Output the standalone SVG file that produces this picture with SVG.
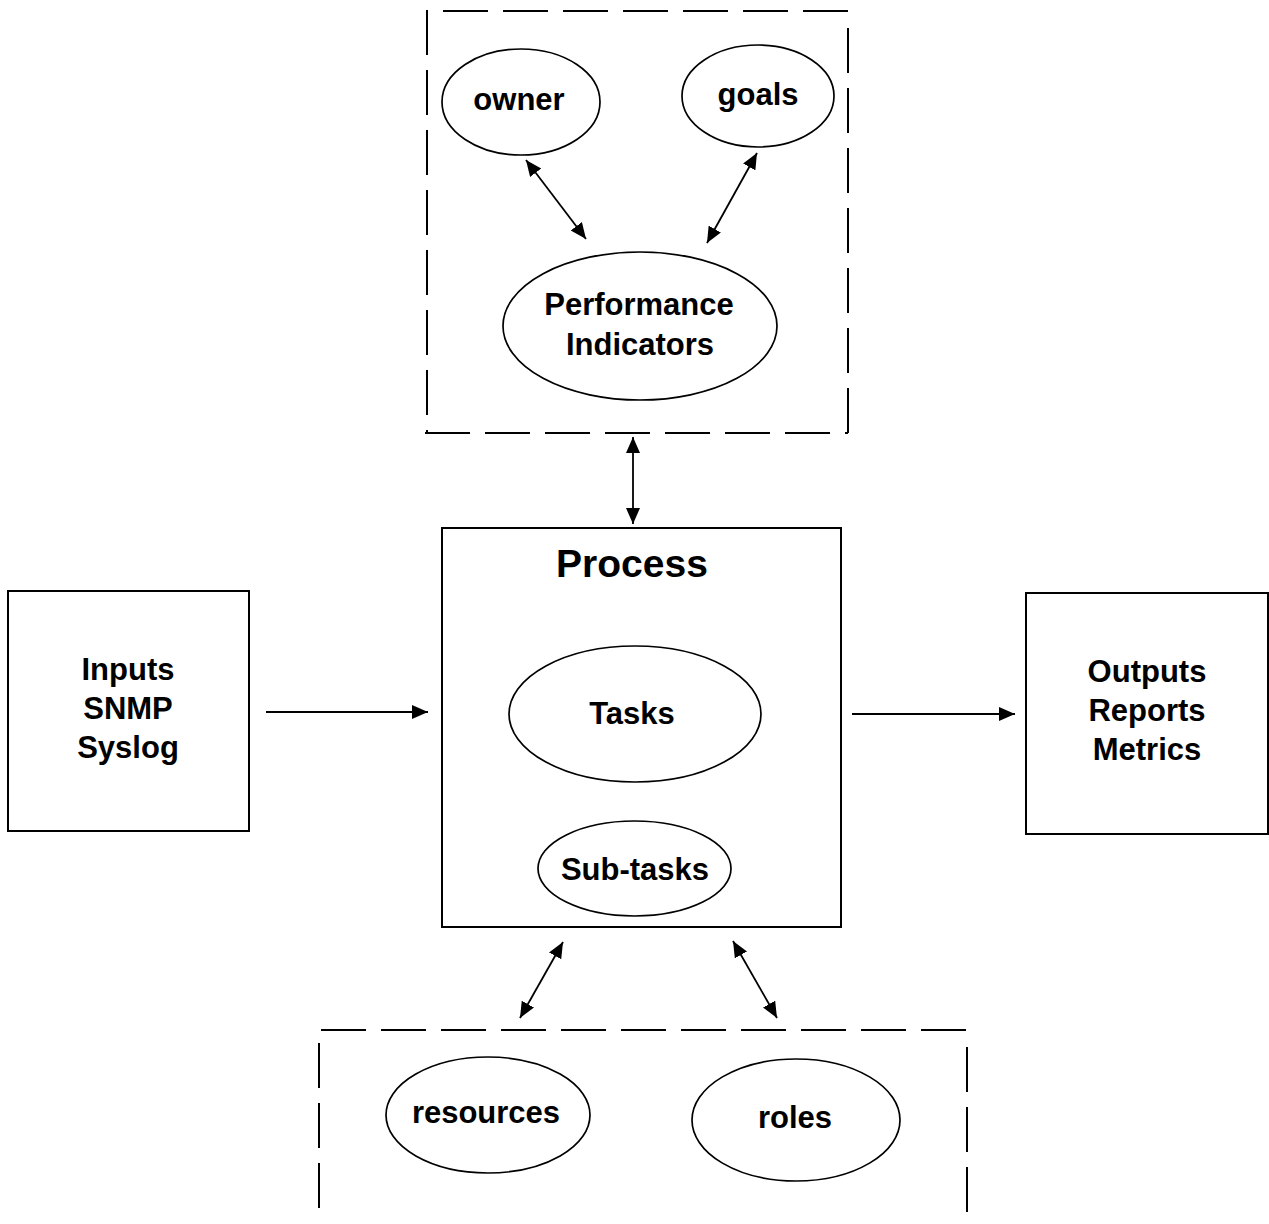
<svg xmlns="http://www.w3.org/2000/svg" width="1269" height="1224" viewBox="0 0 1269 1224">
<style>
  .box{fill:none;stroke:#000;stroke-width:2}
  .dash{fill:none;stroke:#000;stroke-width:2;stroke-dasharray:45 15}
  .ell{fill:#fff;stroke:#000;stroke-width:1.7}
  .conn{fill:none;stroke:#000;stroke-width:1.8}
  .t{font-family:"Liberation Sans",Arial,sans-serif;font-weight:bold;font-size:31px;text-anchor:middle;fill:#000}
  .big{font-size:39px}
</style>
<defs>
  <marker id="ah" markerUnits="userSpaceOnUse" markerWidth="17" markerHeight="15" refX="16" refY="7" orient="auto-start-reverse">
    <path d="M0,0 L16,7 L0,14 z" fill="#000"/>
  </marker>
</defs>
<rect width="1269" height="1224" fill="#fff"/>

<g id="pi-group">
  <line class="dash" x1="443" y1="11" x2="848" y2="11"/>
  <line class="dash" x1="427" y1="10" x2="427" y2="433"/>
  <line class="dash" x1="848" y1="28" x2="848" y2="433"/>
  <line class="dash" x1="425" y1="433" x2="848" y2="433"/>
</g>
<g id="owner">
  <ellipse class="ell" cx="521" cy="102" rx="79" ry="53"/>
  <text class="t" x="519" y="110">owner</text>
</g>
<g id="goals">
  <ellipse class="ell" cx="758" cy="96" rx="76" ry="51"/>
  <text class="t" x="758" y="105">goals</text>
</g>
<g id="performance-indicators">
  <ellipse class="ell" cx="640" cy="326" rx="137" ry="74"/>
  <text class="t" x="639" y="315">Performance</text>
  <text class="t" x="640" y="355">Indicators</text>
</g>

<g id="inputs">
  <rect class="box" x="8" y="591" width="241" height="240"/>
  <text class="t" x="128" y="680">Inputs</text>
  <text class="t" x="128" y="719">SNMP</text>
  <text class="t" x="128" y="758">Syslog</text>
</g>
<g id="process">
  <rect class="box" x="442" y="528" width="399" height="399"/>
  <text class="t big" x="632" y="577">Process</text>
</g>
<g id="tasks">
  <ellipse class="ell" cx="635" cy="714" rx="126" ry="68"/>
  <text class="t" x="632" y="724">Tasks</text>
</g>
<g id="sub-tasks">
  <ellipse class="ell" cx="634.5" cy="868.5" rx="96.5" ry="47.5"/>
  <text class="t" x="635" y="880">Sub-tasks</text>
</g>
<g id="outputs">
  <rect class="box" x="1026" y="593" width="242" height="241"/>
  <text class="t" x="1147" y="682">Outputs</text>
  <text class="t" x="1147" y="721">Reports</text>
  <text class="t" x="1147" y="760">Metrics</text>
</g>

<g id="resource-group">
  <line class="dash" x1="321" y1="1030" x2="967" y2="1030"/>
  <line class="dash" x1="319" y1="1043" x2="319" y2="1209"/>
  <line class="dash" x1="967" y1="1047" x2="967" y2="1212"/>
</g>
<g id="resources">
  <ellipse class="ell" cx="488" cy="1115" rx="102" ry="58"/>
  <text class="t" x="486" y="1123">resources</text>
</g>
<g id="roles">
  <ellipse class="ell" cx="796" cy="1120" rx="104" ry="61"/>
  <text class="t" x="795" y="1128">roles</text>
</g>

<g id="connectors">
  <line class="conn" x1="526" y1="160" x2="586" y2="239" marker-start="url(#ah)" marker-end="url(#ah)"/>
  <line class="conn" x1="757" y1="153" x2="707" y2="243" marker-start="url(#ah)" marker-end="url(#ah)"/>
  <line class="conn" x1="633" y1="437" x2="633" y2="524" marker-start="url(#ah)" marker-end="url(#ah)"/>
  <line class="conn" x1="266" y1="712" x2="428" y2="712" marker-end="url(#ah)"/>
  <line class="conn" x1="852" y1="714" x2="1015" y2="714" marker-end="url(#ah)"/>
  <line class="conn" x1="563" y1="942" x2="520" y2="1018" marker-start="url(#ah)" marker-end="url(#ah)"/>
  <line class="conn" x1="733" y1="941" x2="777" y2="1018" marker-start="url(#ah)" marker-end="url(#ah)"/>
</g>
</svg>
